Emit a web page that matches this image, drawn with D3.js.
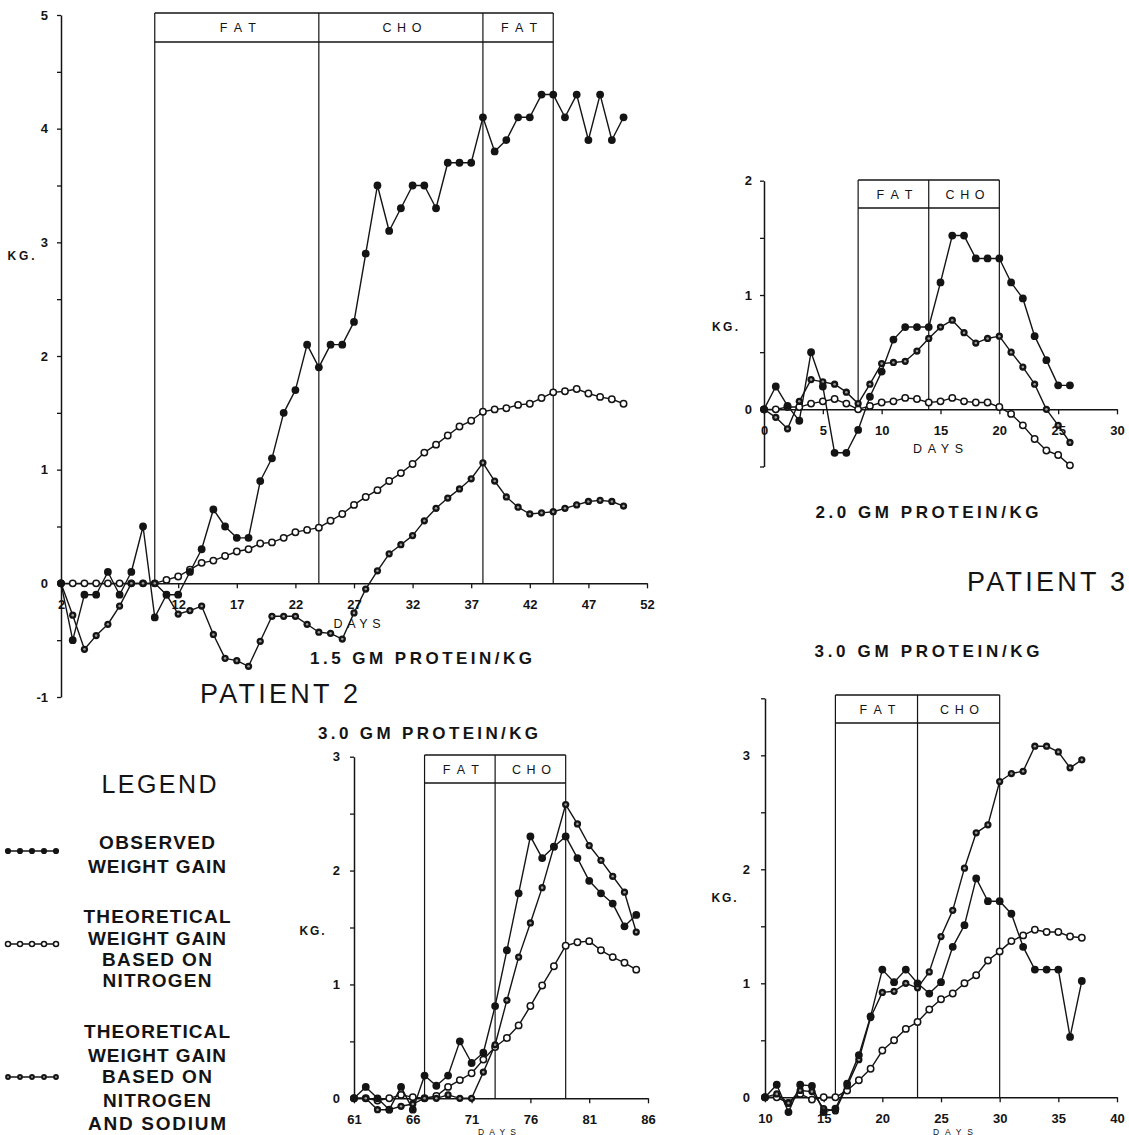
<!DOCTYPE html>
<html>
<head>
<meta charset="utf-8">
<script src="https://cdn.jsdelivr.net/npm/d3@7"></script>
<style>
  body { margin: 0; background: #fff; }
  svg { display: block; }
</style>
</head>
<body>
<svg id="chart" width="1129" height="1135"></svg>
<script>
// ---------- Patient 2, 1.5 g protein/kg ----------
const daysA = [2,3,4,5,6,7,8,9,10,11,12,13,14,15,16,17,18,19,20,21,22,23,24,25,26,27,28,29,30,31,32,33,34,35,36,37,38,39,40,41,42,43,44,45,46,47,48,49,50];
const observedA = [0,-0.5,-0.1,-0.1,0.1,-0.1,0.1,0.5,-0.3,-0.1,-0.1,0.1,0.3,0.65,0.5,0.4,0.4,0.9,1.1,1.5,1.7,2.1,1.9,2.1,2.1,2.3,2.9,3.5,3.1,3.3,3.5,3.5,3.3,3.7,3.7,3.7,4.1,3.8,3.9,4.1,4.1,4.3,4.3,4.1,4.3,3.9,4.3,3.9,4.1];
const nitrogenA = [0,0,0,0,0,0,0,0,0,0.03,0.06,0.12,0.18,0.2,0.24,0.28,0.3,0.35,0.36,0.4,0.45,0.47,0.49,0.55,0.61,0.69,0.76,0.82,0.9,0.97,1.05,1.15,1.22,1.3,1.38,1.43,1.51,1.53,1.54,1.57,1.58,1.63,1.68,1.69,1.71,1.67,1.64,1.62,1.58];
const sodiumA = [0,-0.28,-0.58,-0.46,-0.36,-0.2,0,0,0,-0.1,-0.27,-0.24,-0.2,-0.45,-0.66,-0.68,-0.73,-0.51,-0.29,-0.29,-0.29,-0.36,-0.43,-0.44,-0.49,-0.26,-0.05,0.11,0.26,0.34,0.42,0.55,0.66,0.75,0.83,0.92,1.06,0.9,0.76,0.67,0.61,0.62,0.63,0.66,0.69,0.72,0.73,0.72,0.68];
const dietLabelsA = ["FAT", "CHO", "FAT"];
const dietBoundsA = [10, 24, 38, 44];
const xTicksA = [2,12,17,22,27,32,37,42,47,52];
const yTicksA = [-1,-0.5,0,0.5,1,1.5,2,2.5,3,3.5,4,4.5,5];
const yLabelsA = [-1,0,1,2,3,4,5];

// ---------- Patient 3, 2.0 g protein/kg ----------
const daysB = [0,1,2,3,4,5,6,7,8,9,10,11,12,13,14,15,16,17,18,19,20,21,22,23,24,25,26];
const observedB = [0,0.2,0.03,-0.1,0.5,0.2,-0.38,-0.38,-0.18,0.11,0.33,0.61,0.72,0.72,0.72,1.11,1.52,1.52,1.32,1.32,1.32,1.11,0.97,0.64,0.43,0.21,0.21];
const nitrogenB = [0,0,0.02,0.02,0.05,0.07,0.09,0.05,0,0.03,0.06,0.07,0.1,0.09,0.06,0.07,0.1,0.07,0.06,0.06,0.02,-0.04,-0.14,-0.26,-0.36,-0.4,-0.49];
const sodiumB = [0,-0.07,-0.17,0.07,0.26,0.24,0.22,0.15,0.05,0.22,0.4,0.41,0.42,0.51,0.62,0.72,0.78,0.67,0.58,0.62,0.64,0.5,0.37,0.22,0,-0.14,-0.29];
const dietLabelsB = ["FAT", "CHO"];
const dietBoundsB = [8, 14, 20];
const xTicksB = [0,5,10,15,20,25,30];
const yTicksB = [-0.5,0,0.5,1,1.5,2];
const yLabelsB = [0,1,2];

// ---------- Patient 2, 3.0 g protein/kg ----------
const daysC = [61,62,63,64,65,66,67,68,69,70,71,72,73,74,75,76,77,78,79,80,81,82,83,84,85];
const observedC = [0,0.1,0,-0.1,0.1,-0.1,0.2,0.11,0.2,0.5,0.31,0.4,0.81,1.3,1.8,2.3,2.11,2.21,2.3,2.11,1.91,1.8,1.71,1.51,1.61];
const nitrogenC = [0,0,-0.02,0,0.03,0.01,0,0.02,0.1,0.16,0.22,0.34,0.45,0.53,0.64,0.81,0.99,1.16,1.34,1.37,1.38,1.3,1.24,1.19,1.13];
const sodiumC = [0,0,-0.1,-0.1,-0.07,-0.05,0,0,0.03,0,0,0.23,0.47,0.86,1.24,1.54,1.85,2.21,2.58,2.41,2.22,2.09,1.95,1.81,1.46];
const dietLabelsC = ["FAT", "CHO"];
const dietBoundsC = [67, 73, 79];
const xTicksC = [61,66,71,76,81,86];
const yTicksC = [0,0.5,1,1.5,2,2.5,3];
const yLabelsC = [0,1,2,3];

// ---------- Patient 3, 3.0 g protein/kg ----------
const daysD = [10,11,12,13,14,15,16,17,18,19,20,21,22,23,24,25,26,27,28,29,30,31,32,33,34,35,36,37];
const observedD = [0,0.11,-0.13,0.11,0.1,-0.13,-0.1,0.12,0.37,0.71,1.12,1.01,1.12,1.0,0.91,1.01,1.32,1.51,1.92,1.72,1.72,1.61,1.32,1.12,1.12,1.12,0.53,1.02];
const nitrogenD = [0,0,-0.05,0.03,-0.02,0,0,0.06,0.15,0.25,0.41,0.5,0.6,0.66,0.77,0.86,0.91,1.0,1.07,1.2,1.28,1.37,1.42,1.47,1.45,1.45,1.41,1.4];
const sodiumD = [0,0.03,-0.05,0.06,0.05,-0.1,-0.12,0.1,0.33,0.7,0.92,0.93,1.0,0.96,1.1,1.41,1.64,2.01,2.32,2.39,2.77,2.84,2.86,3.08,3.08,3.03,2.89,2.96];
const dietLabelsD = ["FAT", "CHO"];
const dietBoundsD = [16, 23, 30];
const xTicksD = [10,15,20,25,30,35,40];
const yTicksD = [0,0.5,1,1.5,2,2.5,3,3.5];
const yLabelsD = [0,1,2,3];

// ---------- Legend ----------
const legendLines = [
  ["OBSERVED", "WEIGHT GAIN"],
  ["THEORETICAL", "WEIGHT GAIN", "BASED ON", "NITROGEN"],
  ["THEORETICAL", "WEIGHT GAIN", "BASED ON", "NITROGEN", "AND SODIUM"]
];
const legendKinds = ["observed", "nitrogen", "sodium"];

const FONT = "'Liberation Sans', Arial, Helvetica, sans-serif";
const INK = "#141414";
const svg = d3.select("#chart");

function text(g, x, y, s, o) {
  const t = g.append("text")
    .attr("x", x).attr("y", y)
    .attr("text-anchor", o.anchor || "middle")
    .attr("font-family", FONT)
    .attr("font-size", o.size)
    .attr("font-weight", o.weight || "normal")
    .attr("fill", INK)
    .text(s);
  if (o.width) t.attr("textLength", o.width).attr("lengthAdjust", "spacing");
  return t;
}

function drawDot(g, kind, cx, cy, r) {
  if (kind === "observed") {
    g.append("circle").attr("cx", cx).attr("cy", cy).attr("r", r).attr("fill", INK);
  } else if (kind === "nitrogen") {
    g.append("circle").attr("cx", cx).attr("cy", cy).attr("r", r * 0.82)
      .attr("fill", "#fff").attr("stroke", INK).attr("stroke-width", 1.5);
  } else {
    g.append("circle").attr("cx", cx).attr("cy", cy).attr("r", r * 0.93).attr("fill", INK);
    g.append("circle").attr("cx", cx).attr("cy", cy).attr("r", r * 0.33).attr("fill", "#9a9a9a");
  }
}

// daysLbl: [x, baseline, font size, width]
const panels = [
  { days: daysA, observed: observedA, nitrogen: nitrogenA, sodium: sodiumA,
    dietLabels: dietLabelsA, dietBounds: dietBoundsA,
    xTicks: xTicksA, yTicks: yTicksA, yLabels: yLabelsA,
    xDomain: [2, 52], xRange: [61, 647], yDomain: [-1, 5], yRange: [697, 15],
    boxTop: 13, boxH: 29, yPad: 9,
    kg: [21, 260, 27], daysLbl: [357, 628, 12.5, 47] },
  { days: daysB, observed: observedB, nitrogen: nitrogenB, sodium: sodiumB,
    dietLabels: dietLabelsB, dietBounds: dietBoundsB,
    xTicks: xTicksB, yTicks: yTicksB, yLabels: yLabelsB,
    xDomain: [0, 30], xRange: [764, 1117], yDomain: [-0.5, 2], yRange: [466.5, 180.7],
    boxTop: 180, boxH: 28, yPad: 8,
    kg: [725, 331, 26], daysLbl: [938, 452.5, 12.5, 50] },
  { days: daysC, observed: observedC, nitrogen: nitrogenC, sodium: sodiumC,
    dietLabels: dietLabelsC, dietBounds: dietBoundsC,
    xTicks: xTicksC, yTicks: yTicksC, yLabels: yLabelsC,
    xDomain: [61, 86], xRange: [354, 648], yDomain: [0, 3], yRange: [1098.3, 756.7],
    boxTop: 755, boxH: 28, yPad: 10,
    kg: [312, 935, 25], daysLbl: [497, 1134.5, 8.5, 38] },
  { days: daysD, observed: observedD, nitrogen: nitrogenD, sodium: sodiumD,
    dietLabels: dietLabelsD, dietBounds: dietBoundsD,
    xTicks: xTicksD, yTicks: yTicksD, yLabels: yLabelsD,
    xDomain: [10, 40], xRange: [765, 1117], yDomain: [0, 3.5], yRange: [1097.3, 698.3],
    boxTop: 695, boxH: 28, yPad: 11,
    kg: [724, 902, 25], daysLbl: [953, 1134.5, 8.5, 40] }
];

panels.forEach(p => {
  const g = svg.append("g");
  const x = d3.scaleLinear().domain(p.xDomain).range(p.xRange);
  const y = d3.scaleLinear().domain(p.yDomain).range(p.yRange);
  const y0 = y(0);

  // axes
  const yAxis = d3.axisLeft(y).tickValues(p.yTicks)
    .tickSizeInner(4).tickSizeOuter(0).tickPadding(p.yPad)
    .tickFormat(d => p.yLabels.includes(d) ? String(d) : "");
  const xAxis = d3.axisBottom(x).tickValues(p.xTicks)
    .tickSizeInner(5).tickSizeOuter(0).tickPadding(11)
    .tickFormat(d => String(d));

  const ya = g.append("g").attr("transform", `translate(${p.xRange[0]},0)`).call(yAxis);
  const xa = g.append("g").attr("transform", `translate(0,${y0})`).call(xAxis);
  [ya, xa].forEach(a => {
    a.select(".domain").attr("stroke", INK).attr("stroke-width", 1.5);
    a.selectAll(".tick line").attr("stroke", INK).attr("stroke-width", 1.3);
    a.selectAll(".tick text").attr("font-family", FONT).attr("font-size", 13)
      .attr("font-weight", "bold").attr("fill", INK);
  });

  // diet period boxes
  const xb = p.dietBounds.map(d => x(d));
  const boxBottom = p.boxTop + p.boxH;
  g.append("line").attr("x1", xb[0]).attr("x2", xb[xb.length - 1])
    .attr("y1", p.boxTop).attr("y2", p.boxTop).attr("stroke", INK).attr("stroke-width", 1.4);
  g.append("line").attr("x1", xb[0]).attr("x2", xb[xb.length - 1])
    .attr("y1", boxBottom).attr("y2", boxBottom).attr("stroke", INK).attr("stroke-width", 1.4);
  xb.forEach(xx => {
    g.append("line").attr("x1", xx).attr("x2", xx).attr("y1", p.boxTop).attr("y2", y0)
      .attr("stroke", INK).attr("stroke-width", 1.2);
  });
  p.dietLabels.forEach((lab, i) => {
    const cx = (xb[i] + xb[i + 1]) / 2;
    text(g, cx + 1, p.boxTop + p.boxH / 2 + 4.5, lab,
      { size: 12.5, width: lab === "FAT" ? 36 : 39 });
  });

  // series lines then markers
  const kinds = [["nitrogen", p.nitrogen], ["sodium", p.sodium], ["observed", p.observed]];
  const line = d3.line().x(d => x(d[0])).y(d => y(d[1]));
  kinds.forEach(([kind, vals]) => {
    const pts = p.days.map((d, i) => [d, vals[i]]);
    g.append("path").attr("d", line(pts)).attr("fill", "none")
      .attr("stroke", INK).attr("stroke-width", 1.4).attr("stroke-linejoin", "round");
  });
  kinds.forEach(([kind, vals]) => {
    p.days.forEach((d, i) => drawDot(g, kind, x(d), y(vals[i]), 3.9));
  });

  text(g, p.kg[0], p.kg[1], "KG.", { size: 12, weight: "bold", width: p.kg[2] });
  text(g, p.daysLbl[0], p.daysLbl[1], "DAYS", { size: p.daysLbl[2], width: p.daysLbl[3] });
});

// titles
text(svg, 421, 664, "1.5 GM PROTEIN/KG", { size: 17, weight: "bold", width: 222 });
text(svg, 279, 703, "PATIENT 2", { size: 27, width: 158 });
text(svg, 428, 739, "3.0 GM PROTEIN/KG", { size: 17, weight: "bold", width: 220 });
text(svg, 927, 518, "2.0 GM PROTEIN/KG", { size: 17, weight: "bold", width: 223 });
text(svg, 1046, 591, "PATIENT 3", { size: 27, width: 158 });
text(svg, 927, 657, "3.0 GM PROTEIN/KG", { size: 17, weight: "bold", width: 225 });

// legend
text(svg, 159, 793, "LEGEND", { size: 25, width: 115 });
const legendRows = [[841.7, 865.5], [915.7, 937.5, 958.5, 979.5], [1030.5, 1054.5, 1075.7, 1099.5, 1122.5]];
const legendWidths = [[116, 138], [147, 138, 110, 109], [146, 138, 110, 108, 138]];
const legendSymbolY = [851, 944, 1077];
const legendDotX = [8, 20, 32, 44, 56];
legendLines.forEach((rows, i) => {
  rows.forEach((s, j) => {
    text(svg, 157, legendRows[i][j] + 7, s, { size: 19, weight: "bold", width: legendWidths[i][j] });
  });
  const lx = d3.scaleLinear().domain([0, legendDotX.length - 1]).range([legendDotX[0], legendDotX[legendDotX.length - 1]]);
  svg.append("line").attr("x1", lx(0)).attr("x2", lx(4))
    .attr("y1", legendSymbolY[i]).attr("y2", legendSymbolY[i])
    .attr("stroke", INK).attr("stroke-width", 1.3);
  legendDotX.forEach((_, k) => drawDot(svg, legendKinds[i], lx(k), legendSymbolY[i], 3.1));
});
</script>
</body>
</html>
